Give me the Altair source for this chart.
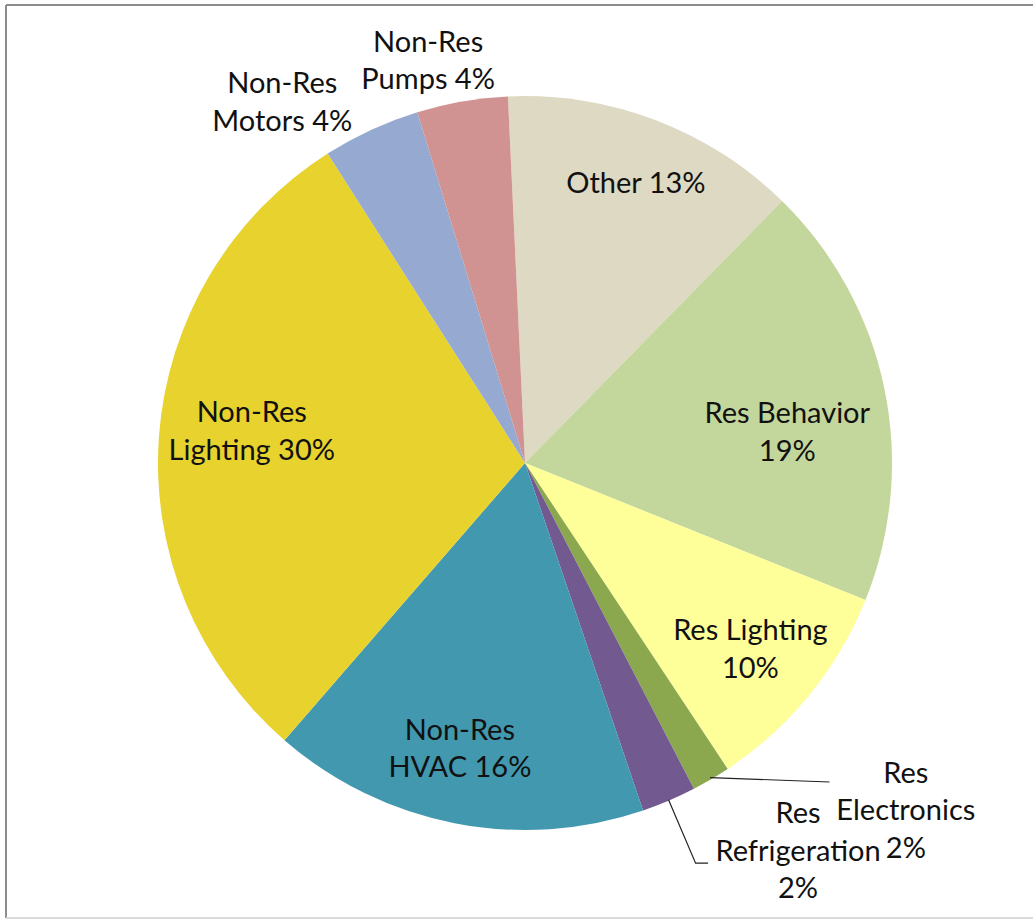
import math
import altair as alt
import pandas as pd

# ---- data ----
categories = ["Other", "Res Behavior", "Res Lighting", "Res Electronics",
              "Res Refrigeration", "Non-Res HVAC", "Non-Res Lighting",
              "Non-Res Motors", "Non-Res Pumps"]
values = [13.1, 18.75, 9.6, 1.7, 2.4, 16.6, 29.6, 4.3, 4.0]
labels = ["Other 13%", "Res Behavior\n19%", "Res Lighting\n10%",
          "Res\nElectronics\n2%", "Res\nRefrigeration\n2%",
          "Non-Res\nHVAC 16%", "Non-Res\nLighting 30%",
          "Non-Res\nMotors 4%", "Non-Res\nPumps 4%"]
colors = ["#DDD9C3", "#C3D69B", "#FFFF99", "#8BA84F", "#72598F",
          "#4198AF", "#E7D22E", "#95A9D1", "#D09391"]

# ---- layout / placement parameters ----
W, H = 1027, 913
CX, CY = 519, 458
R = 367
START_DEG = -2.67
FS = 29
LH = 37.5
# label placement: (angle offset from slice middle in degrees, distance from centre in px)
label_place = [(0.8, 300), (5.3, 264), (0.5, 293), (-17.1, 516), (-12.0, 475),
               (1.7, 294), (2.3, 275), (-9.2, 434), (-3.7, 413)]
# leader lines: slice index -> list of (angle offset deg, radius px)
leaders = {3: [(0, 365), (-13.2, 441)],
           4: [(0, 366), (0.0, 435), (-1.5, 440)]}

total = sum(values)
mids = []
cum = 0.0
for v in values:
    mids.append(START_DEG + 360.0 * (cum + v / 2) / total)
    cum += v


def polar(deg, r):
    t = math.radians(deg)
    return CX + r * math.sin(t), CY - r * math.cos(t)


pie_df = pd.DataFrame({"cat": categories, "value": values,
                       "idx": list(range(len(values)))})

lx, ly = [], []
for m, (da, r), lab in zip(mids, label_place, labels):
    x, y = polar(m + da, r)
    n = lab.count("\n")
    lx.append(x)
    ly.append(y - n * LH / 2)  # centre the whole text block
label_df = pd.DataFrame({"label": labels, "x": lx, "y": ly})

lead_rows = []
for i, pts in leaders.items():
    for k, (da, r) in enumerate(pts):
        x, y = polar(mids[i] + da, r)
        lead_rows.append({"grp": categories[i], "k": k, "x": x, "y": y})
lead_df = pd.DataFrame(lead_rows)

start = math.radians(START_DEG)
pie = alt.Chart(pie_df).mark_arc(radius=R).encode(
    theta=alt.Theta("value:Q", stack=True,
                    scale=alt.Scale(range=[start, start + 2 * math.pi])),
    order=alt.Order("idx:Q", sort="ascending"),
    color=alt.Color("cat:N", scale=alt.Scale(domain=categories, range=colors),
                    legend=None),
    x=alt.value(CX), y=alt.value(CY),
)

text = alt.Chart(label_df).mark_text(
    font="Lato", fontSize=FS, lineBreak="\n", lineHeight=LH,
    color="#111111", align="center", baseline="middle"
).encode(
    x=alt.X("x:Q", scale=None), y=alt.Y("y:Q", scale=None), text="label:N"
)

lead = alt.Chart(lead_df).mark_line(color="#222222", strokeWidth=1.2).encode(
    x=alt.X("x:Q", scale=None), y=alt.Y("y:Q", scale=None),
    detail="grp:N", order="k:Q"
)

border_df = pd.DataFrame({"side": ["top", "left", "bottom"]})
top = alt.Chart(border_df).mark_rule(color="#8c8c8c", strokeWidth=2).encode(
    x=alt.value(0), x2=alt.value(W + 10), y=alt.value(0))
left = alt.Chart(border_df).mark_rule(color="#8c8c8c", strokeWidth=2).encode(
    x=alt.value(0), y=alt.value(0), y2=alt.value(H))
bottom = alt.Chart(border_df).mark_rule(color="#d9d9d9", strokeWidth=2).encode(
    x=alt.value(0), x2=alt.value(W + 10), y=alt.value(H))

chart = alt.layer(pie, lead, text, top, left, bottom).properties(
    width=W, height=H,
    padding={"left": 6, "top": 5, "right": 0, "bottom": 2},
    autosize=alt.AutoSizeParams(type="none"),
    background="white",
).configure_view(stroke=None)

chart.save("out.html", embed_options={"renderer": "svg", "actions": False})
